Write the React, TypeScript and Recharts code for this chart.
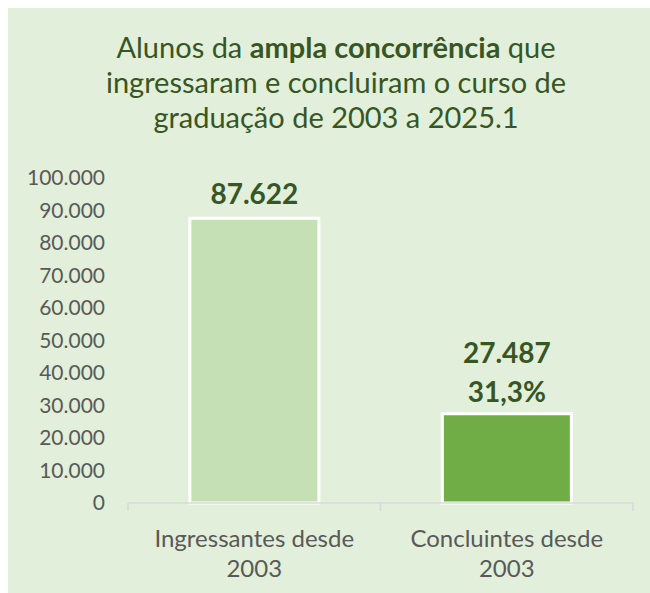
import { BarChart, Bar, XAxis, YAxis, Cell, LabelList } from 'recharts';

const categories = ['Ingressantes desde 2003', 'Concluintes desde 2003'];
const alunos = [87622, 27487];
const percentuais = [null, '31,3%'];
const yTicks = [0, 10000, 20000, 30000, 40000, 50000, 60000, 70000, 80000, 90000, 100000];
const barColors = ['#C5E0B4', '#70AD47'];

const data = categories.map((c, i) => ({ categoria: c, alunos: alunos[i], pct: percentuais[i] }));

const FONT = 'Lato, "Open Sans", sans-serif';
const DARK_GREEN = '#375623';

// separador de milhar no padrão brasileiro
const fmt = (v: number) => String(v).replace(/\B(?=(\d{3})+(?!\d))/g, '.');

const CategoryTick = (props: any) => {
  const { x, y, payload } = props;
  const label: string = payload.value;
  const cut = label.lastIndexOf(' ');
  const off = payload.offset ?? 0;
  return (
    <g>
      <line x1={x - off} x2={x - off} y1={y} y2={y + 8} stroke="#D9D9D9" strokeWidth={1.5} />
      <line x1={x + off} x2={x + off} y1={y} y2={y + 8} stroke="#D9D9D9" strokeWidth={1.5} />
      <text textAnchor="middle" fill="#595959" fontSize={24} fontFamily={FONT}>
        <tspan x={x} y={y + 44}>{label.slice(0, cut)}</tspan>
        <tspan x={x} y={y + 74}>{label.slice(cut + 1)}</tspan>
      </text>
    </g>
  );
};

const ValueLabel = (props: any) => {
  const { x, y, width, value, index } = props;
  const cx = x + width / 2;
  const pct = percentuais[index];
  return (
    <text textAnchor="middle" fill={DARK_GREEN} fontSize={28} fontWeight={700} fontFamily={FONT}>
      {pct ? (
        <>
          <tspan x={cx} y={y - 51}>{fmt(value)}</tspan>
          <tspan x={cx} y={y - 12}>{pct}</tspan>
        </>
      ) : (
        <tspan x={cx} y={y - 14}>{fmt(value)}</tspan>
      )}
    </text>
  );
};

export default function App() {
  return (
    <div
      style={{ position: 'fixed', left: 8, top: 8, width: 642, height: 585, background: '#E2EFDA', overflow: 'hidden' }}
    >
      <svg width={642} height={150} style={{ position: 'absolute', left: 0, top: 0 }}>
        <text textAnchor="middle" fill={DARK_GREEN} fontSize={29} fontFamily={FONT}>
          <tspan x={328} y={50}>
            Alunos da <tspan fontWeight={700}>ampla concorrência</tspan> que
          </tspan>
          <tspan x={328} y={85}>ingressaram e concluiram o curso de</tspan>
          <tspan x={328} y={120}>graduação de 2003 a 2025.1</tspan>
        </text>
      </svg>
      <BarChart
        width={642}
        height={584}
        data={data}
        margin={{ top: 170, right: 17, bottom: 9, left: 0 }}
        barCategoryGap="24.5%"
      >
        <XAxis
          dataKey="categoria"
          height={80}
          axisLine={{ stroke: '#D9D9D9', strokeWidth: 1.5 }}
          tickLine={false}
          tickSize={0}
          tickMargin={0}
          tick={<CategoryTick />}
          interval={0}
        />
        <YAxis
          width={120}
          domain={[0, 100000]}
          ticks={yTicks}
          interval={0}
          axisLine={false}
          tickLine={false}
          tickSize={0}
          tickMargin={23}
          tickFormatter={fmt}
          tick={{ fill: '#595959', fontSize: 21, fontFamily: FONT }}
        />
        <Bar dataKey="alunos" stroke="#FFFFFF" strokeWidth={3} isAnimationActive={false}>
          {data.map((d, i) => (
            <Cell key={d.categoria} fill={barColors[i]} />
          ))}
          <LabelList dataKey="alunos" content={<ValueLabel />} />
        </Bar>
      </BarChart>
    </div>
  );
}
